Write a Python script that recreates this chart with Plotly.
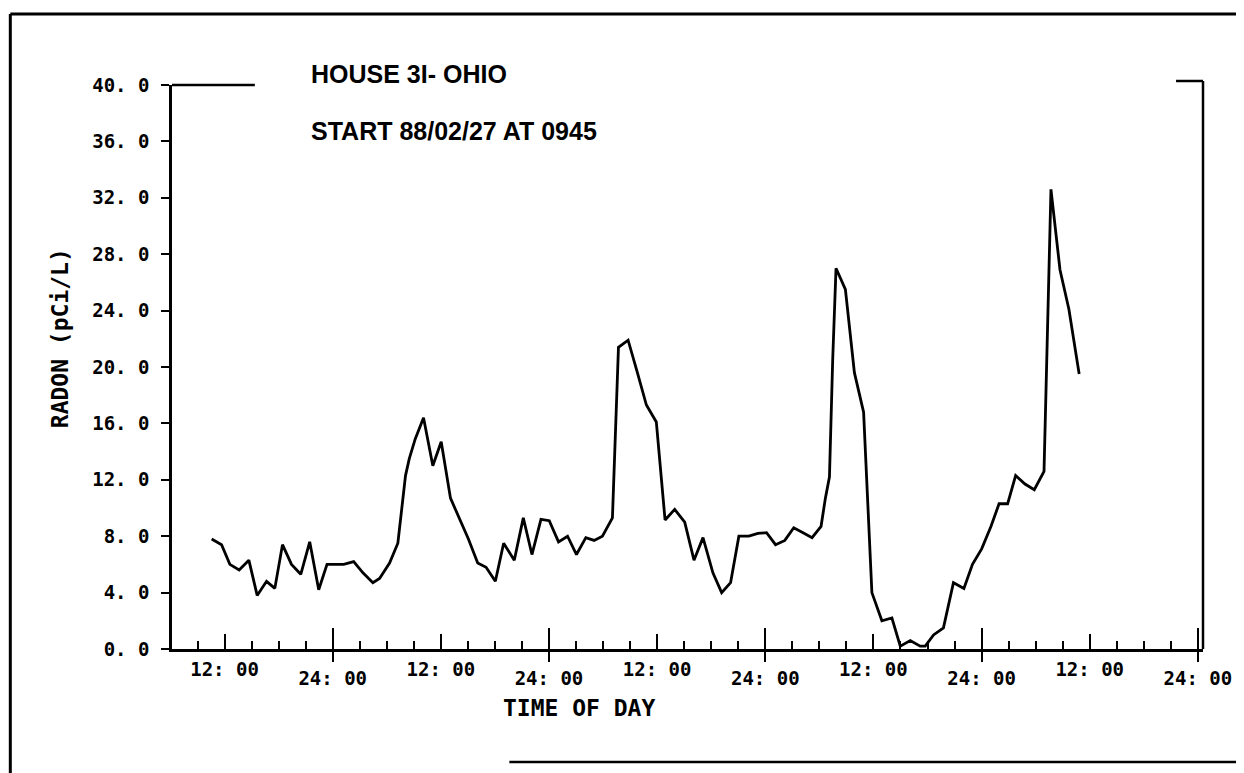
import plotly.graph_objects as go

# ---------------- data (hours since 88/02/27 00:00, radon pCi/L) ----------------
hours = [10.57, 11.67, 12.59, 13.62, 14.70, 15.62, 16.66, 17.58, 18.43, 19.43,
         20.46, 21.45, 22.45, 23.37, 24.30, 25.22, 26.33, 27.36, 28.46, 29.20,
         30.31, 31.23, 32.08, 32.50, 33.16, 34.08, 35.11, 36.04, 37.07, 38.06,
         39.06, 40.09, 41.02, 42.05, 42.97, 44.15, 45.15, 46.11, 47.11, 48.03,
         49.06, 50.06, 51.05, 52.09, 53.01, 53.93, 55.04, 55.71, 56.78, 57.81,
         58.81, 59.91, 60.88, 61.95, 63.06, 64.09, 65.09, 66.19, 67.16, 68.15,
         69.07, 70.18, 71.18, 72.14, 73.14, 74.17, 75.16, 76.19, 77.19, 78.19,
         78.67, 79.12, 79.48, 79.85, 80.89, 81.89, 82.91, 83.83, 84.94, 86.05,
         86.98, 88.09, 89.19, 89.75, 90.67, 91.77, 92.88, 94.04, 94.99, 96.01,
         97.05, 97.94, 98.89, 99.78, 100.82, 101.85, 102.93, 103.70, 104.70, 105.69,
         106.83]
radon = [7.8, 7.4, 6.0, 5.6, 6.3, 3.8, 4.8, 4.3, 7.4, 6.0,
         5.3, 7.6, 4.2, 6.0, 6.0, 6.0, 6.2, 5.4, 4.7, 5.0,
         6.1, 7.5, 12.3, 13.5, 14.9, 16.4, 13.0, 14.7, 10.7, 9.2,
         7.8, 6.1, 5.8, 4.8, 7.5, 6.3, 9.3, 6.7, 9.2, 9.1,
         7.6, 8.0, 6.7, 7.9, 7.7, 8.0, 9.3, 21.4, 21.9, 19.6,
         17.3, 16.1, 9.15, 9.9, 9.0, 6.3, 7.9, 5.4, 4.0, 4.7,
         8.0, 8.0, 8.2, 8.25, 7.4, 7.7, 8.6, 8.25, 7.9, 8.7,
         10.7, 12.2, 20.5, 27.0, 25.5, 19.6, 16.8, 4.0, 2.0, 2.2,
         0.2, 0.6, 0.2, 0.2, 1.0, 1.5, 4.7, 4.3, 6.0, 7.1,
         8.7, 10.3, 10.3, 12.3, 11.7, 11.3, 12.6, 32.6, 26.9, 24.1,
         19.5]

y_ticks = [0, 4, 8, 12, 16, 20, 24, 28, 32, 36, 40]
y_labels = ["0. 0", "4. 0", "8. 0", "12. 0", "16. 0", "20. 0",
            "24. 0", "28. 0", "32. 0", "36. 0", "40. 0"]
noon_ticks = [12, 36, 60, 84, 108]
noon_labels = ["12: 00"] * 5
midnight_ticks = [24, 48, 72, 96, 120]
midnight_labels = ["24: 00"] * 5

title_1 = "HOUSE 3I- OHIO"
title_2 = "START 88/02/27 AT 0945"
y_title = "RADON (pCi/L)"
x_title = "TIME OF DAY"

# ---------------- layout geometry ----------------
OFF = 8                      # page body margin offset
W, H = 1244 - OFF, 773 - OFF
L, R, T, B = 172 - OFF, 39, 85 - OFF, 124
X_RANGE = [6.17, 120.57]
Y_RANGE = [0, 40]
PW, PH = W - L - R, H - T - B


def fx(px):
    return (px - OFF - L) / PW


def fy(py):
    return (H - B - (py - OFF)) / PH


mono = dict(family="DejaVu Sans Mono", size=19, color="black", weight="bold")
ink = "black"

fig = go.Figure()
fig.add_trace(go.Scatter(x=hours, y=radon, mode="lines",
                         line=dict(color=ink, width=2.8),
                         showlegend=False, hoverinfo="skip"))
for xa in ("x2", "x3"):
    fig.add_trace(go.Scatter(x=hours, y=radon, mode="lines", xaxis=xa,
                             line=dict(color="rgba(0,0,0,0)", width=0),
                             showlegend=False, hoverinfo="skip"))

fig.update_layout(
    width=W, height=H,
    margin=dict(l=L, r=R, t=T, b=B, pad=0),
    paper_bgcolor="white", plot_bgcolor="white",
    xaxis=dict(range=X_RANGE, showgrid=False, zeroline=False,
               showline=True, linecolor=ink, linewidth=2.5,
               tickmode="array", tickvals=noon_ticks, ticktext=noon_labels,
               ticks="inside", ticklen=15, tickwidth=2, tickcolor=ink,
               tickfont=mono, ticklabelstandoff=1,
               minor=dict(tick0=0, dtick=3, ticks="inside", ticklen=8,
                          tickwidth=2, tickcolor=ink, showgrid=False)),
    xaxis2=dict(range=X_RANGE, overlaying="x", anchor="y", side="bottom",
                showgrid=False, zeroline=False, showline=False,
                tickmode="array", tickvals=midnight_ticks, ticktext=midnight_labels,
                ticks="outside", ticklen=12, tickwidth=2, tickcolor=ink,
                tickfont=mono, ticklabelstandoff=0),
    xaxis3=dict(range=X_RANGE, overlaying="x", anchor="y", side="bottom",
                showgrid=False, zeroline=False, showline=False,
                tickmode="array", tickvals=midnight_ticks,
                ticks="inside", ticklen=21, tickwidth=2, tickcolor=ink,
                showticklabels=False),
    yaxis=dict(range=Y_RANGE, showgrid=False, zeroline=False,
               showline=True, linecolor=ink, linewidth=2.5,
               tickmode="array", tickvals=y_ticks, ticktext=y_labels,
               ticks="outside", ticklen=8, tickwidth=2, tickcolor=ink,
               tickfont=mono, ticklabelstandoff=8),
)

# frame decorations (reference pixel positions converted to paper fractions)
def seg(x0, y0, x1, y1, w=2.5):
    return dict(type="line", xref="paper", yref="paper",
                x0=fx(x0), y0=fy(y0), x1=fx(x1), y1=fy(y1),
                line=dict(color=ink, width=w))

fig.update_layout(shapes=[
    seg(172, 85, 255, 85),          # top-left stub
    seg(1178, 81, 1205, 81),        # top-right stub
    seg(1205, 81, 1205, 649),       # right edge
    seg(10, 14, 10, 773, 3),        # outer frame left
    seg(10, 14, 1244, 14, 3),       # outer frame top
    seg(510, 762, 1244, 762, 2.5),  # outer frame bottom
])

fig.update_layout(annotations=[
    dict(text=title_1, xref="paper", yref="paper", x=fx(309), y=fy(74),
         xanchor="left", yanchor="middle", showarrow=False,
         font=dict(family="Liberation Sans", size=25, color=ink, weight="bold")),
    dict(text=title_2, xref="paper", yref="paper", x=fx(309), y=fy(131),
         xanchor="left", yanchor="middle", showarrow=False,
         font=dict(family="Liberation Sans", size=25, color=ink, weight="bold")),
    dict(text=y_title, xref="paper", yref="paper", x=fx(60), y=fy(338),
         xanchor="center", yanchor="middle", textangle=-90, showarrow=False,
         font=dict(family="DejaVu Sans Mono", size=23, color=ink, weight="bold")),
    dict(text=x_title, xref="paper", yref="paper", x=fx(580), y=fy(708),
         xanchor="center", yanchor="middle", showarrow=False,
         font=dict(family="DejaVu Sans Mono", size=23, color=ink, weight="bold")),
])

fig.write_html("out.html")
